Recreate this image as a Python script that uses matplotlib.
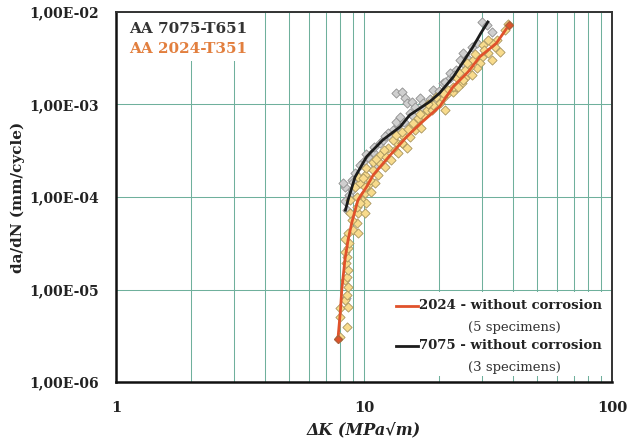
import matplotlib
matplotlib.use("Agg")
import matplotlib.pyplot as plt
from matplotlib.patches import Rectangle

# ---------------- data ----------------
x_ticks = [1, 10, 100]
x_tick_labels = ["1", "10", "100"]
y_ticks = [1e-6, 1e-5, 1e-4, 1e-3, 1e-2]
y_tick_labels = ["1,00E-06", "1,00E-05", "1,00E-04", "1,00E-03", "1,00E-02"]

# AA 7075-T651 scatter (gray)
g_dk = [8.38, 8.51, 8.38, 8.51, 8.92, 8.92, 9.2, 9.91, 10.4, 10.9, 11.6, 11.9,
        13.1, 13.7, 13.5, 14.2, 14.6, 14.9, 15.6, 16.1, 16.8, 17.3, 13.5, 14.0,
        15.3, 19.0, 20.8, 22.2, 23.6, 25.1, 21.2, 22.2, 24.4, 25.1, 27.2, 29.8,
        31.2, 32.7, 11.1, 8.47, 8.25, 12.5, 17.9,
        9.6, 10.2, 11.0, 12.2, 12.9, 14.5, 15.8, 17.5, 18.5, 20.0, 23.0, 26.0,
        28.5, 9.0, 8.7]
g_da = [1.28e-4, 9.3e-5, 9.0e-5, 7.2e-5, 1.19e-4, 1.53e-4, 1.82e-4, 2.41e-4,
        2.73e-4, 3.09e-4, 3.84e-4, 4.13e-4, 5.3e-4, 6.0e-4, 1.32e-3, 1.37e-3,
        1.17e-3, 1.04e-3, 1.07e-3, 9.5e-4, 1.17e-3, 1.04e-3, 6.5e-4, 7.4e-4,
        8.1e-4, 1.44e-3, 1.71e-3, 1.93e-3, 2.36e-3, 2.81e-3, 1.76e-3, 2.19e-3,
        3.03e-3, 3.6e-3, 4.2e-3, 7.85e-3, 7.2e-3, 6.1e-3, 2.2e-4, 8.0e-6,
        1.4e-4, 4.9e-4, 9.0e-4,
        2.2e-4, 2.9e-4, 3.5e-4, 4.6e-4, 4.4e-4, 6.5e-4, 7.6e-4, 9.0e-4, 1.15e-3,
        1.4e-3, 2.1e-3, 3.2e-3, 4.6e-3, 1.45e-4, 1.05e-4]

# AA 2024-T351 scatter (yellow)
y_dk = [8.0, 8.51, 8.0, 8.0, 8.6, 8.38, 8.51, 8.63, 8.38, 8.51, 8.63, 8.43,
        8.51, 8.38, 8.6, 8.72, 8.38, 8.63, 9.05, 9.48, 9.33, 8.92, 8.78, 9.45,
        10.1, 9.33, 9.79, 10.2, 10.1, 10.7, 10.4, 11.1,
        8.78, 9.33, 9.64, 9.2, 9.64, 10.1, 9.45, 10.1, 10.6, 10.2, 10.9, 11.4,
        10.9, 11.6, 12.1, 11.6, 12.3, 12.9, 12.5, 13.3, 13.7, 13.5, 14.3, 14.9,
        14.3, 15.3, 16.1, 15.3, 16.3,
        13.1, 13.5, 14.3, 14.2, 15.8, 16.5, 17.3, 17.9, 18.8, 19.0, 20.2, 20.8,
        21.8, 22.8, 23.6, 24.8, 25.5, 21.2, 17.0,
        38.1, 37.0, 34.5, 33.7, 35.3, 32.7, 31.6, 32.7, 30.1, 29.8, 29.3, 27.5,
        28.5, 26.7, 27.2, 25.5, 25.1, 23.6, 22.8, 23.9, 21.8, 20.8,
        30.5, 31.5, 28.0, 26.0, 24.2, 19.5, 18.2, 16.8, 15.0, 12.0, 11.2, 9.9]
y_da = [3.06e-6, 3.96e-6, 5.08e-6, 6.3e-6, 6.5e-6, 7.7e-6, 8.7e-6, 1.07e-5,
        1.27e-5, 1.37e-5, 1.63e-5, 1.93e-5, 2.26e-5, 2.56e-5, 2.81e-5, 3.18e-5,
        3.52e-5, 4.08e-5, 4.4e-5, 4.08e-5, 5.24e-5, 5.64e-5, 6.7e-5, 6.7e-5,
        6.7e-5, 7.85e-5, 9.3e-5, 8.6e-5, 1.10e-4, 1.14e-4, 1.35e-4, 1.42e-4,
        9.3e-5, 1.01e-4, 8.6e-5, 1.29e-4, 1.42e-4, 1.29e-4, 1.66e-4, 1.73e-4,
        1.53e-4, 2.06e-4, 1.96e-4, 1.73e-4, 2.41e-4, 2.33e-4, 2.13e-4, 2.85e-4,
        2.73e-4, 2.5e-4, 3.39e-4, 3.22e-4, 2.99e-4, 3.96e-4, 3.84e-4, 3.39e-4,
        4.68e-4, 4.49e-4, 5.3e-4, 5.75e-4, 6.3e-4,
        4.13e-4, 4.68e-4, 5.08e-4, 3.84e-4, 6.3e-4, 7.15e-4, 7.7e-4, 8.7e-4,
        8.7e-4, 9.9e-4, 1.04e-3, 1.17e-3, 1.33e-3, 1.37e-3, 1.56e-3, 1.71e-3,
        1.93e-3, 8.7e-4, 5.6e-4,
        7.4e-3, 6.4e-3, 5.0e-3, 4.2e-3, 3.7e-3, 4.6e-3, 3.6e-3, 3.03e-3, 4.4e-3,
        3.29e-3, 2.81e-3, 3.03e-3, 2.48e-3, 2.56e-3, 2.08e-3, 2.36e-3, 1.84e-3,
        2.0e-3, 1.56e-3, 1.56e-3, 1.44e-3, 1.33e-3,
        3.9e-3, 5.0e-3, 3.5e-3, 2.8e-3, 2.2e-3, 1.2e-3, 1.0e-3, 7.9e-4, 5.4e-4,
        3.2e-4, 2.6e-4, 1.6e-4]

# fitted curves
fit2024_dk = [7.85, 8.04, 8.14, 8.38, 8.63, 8.95, 9.46, 10.25, 10.9, 12.7,
              14.9, 16.8, 20.2, 22.9, 26.3, 29.3, 34.2, 38.4]
fit2024_da = [2.9e-6, 6.0e-6, 1.0e-5, 2.1e-5, 3.45e-5, 5.4e-5, 9.3e-5, 1.29e-4,
              1.73e-4, 2.8e-4, 4.5e-4, 6.15e-4, 9.5e-4, 1.56e-3, 2.25e-3,
              3.27e-3, 4.6e-3, 7.2e-3]
fit7075_dk = [8.42, 8.63, 9.2, 10.25, 11.9, 14.0, 15.3, 18.4, 20.2, 22.9,
              25.1, 27.5, 29.6, 31.6]
fit7075_da = [7.2e-5, 9.3e-5, 1.64e-4, 2.73e-4, 4.13e-4, 5.75e-4, 7.7e-4,
              1.07e-3, 1.33e-3, 1.98e-3, 2.88e-3, 4.19e-3, 5.9e-3, 7.8e-3]

# ---------------- figure ----------------
SERIF = ["DejaVu Serif"]
plt.rcParams["font.family"] = SERIF

fig = plt.figure(figsize=(6.27, 4.42), dpi=100)
ax = fig.add_axes([0.185, 0.1357, 0.791, 0.8372])
ax.set_xscale("log")
ax.set_yscale("log")
ax.set_xlim(1, 100)
ax.set_ylim(1e-6, 1e-2)

grid_c = "#6fb09c"
ax.grid(True, which="major", axis="both", color=grid_c, lw=0.75, zorder=0)
ax.grid(True, which="minor", axis="x", color=grid_c, lw=0.75, zorder=0)
ax.grid(False, which="minor", axis="y")
ax.set_axisbelow(True)

ax.set_xticks(x_ticks)
ax.set_xticklabels(x_tick_labels, fontweight="bold", fontsize=10.5, color="#222222")
ax.set_yticks(y_ticks)
ax.set_yticklabels(y_tick_labels, fontweight="bold", fontsize=10, color="#222222")
ax.yaxis.set_minor_locator(matplotlib.ticker.NullLocator())
ax.xaxis.set_minor_locator(matplotlib.ticker.LogLocator(subs=range(2, 10)))
ax.xaxis.set_minor_formatter(matplotlib.ticker.NullFormatter())
ax.tick_params(which="both", length=0)
ax.tick_params(axis="x", pad=14)
ax.tick_params(axis="y", pad=12)

for s in ["left", "bottom"]:
    ax.spines[s].set_linewidth(1.8)
    ax.spines[s].set_color("#111111")
for s in ["top", "right"]:
    ax.spines[s].set_linewidth(1.4)
    ax.spines[s].set_color("#333333")

ax.scatter(g_dk, g_da, marker="D", s=22, facecolor="#cfcfcf", edgecolor="#8f8f8f",
           linewidth=0.6, zorder=3)
ax.scatter(y_dk, y_da, marker="D", s=22, facecolor="#f8db8c", edgecolor="#a8955e",
           linewidth=0.6, zorder=4)
ax.plot(fit7075_dk, fit7075_da, color="#1c1c1c", lw=2.0, zorder=5)
ax.plot(fit2024_dk, fit2024_da, color="#e0522b", lw=2.0, zorder=6)
ax.plot([fit2024_dk[0], fit2024_dk[-1]], [fit2024_da[0], fit2024_da[-1]], ls="none",
        marker="D", ms=4.5, mfc="#e0522b", mec="#b0603a", zorder=7)

# top-left label box
ax.add_patch(Rectangle((0.0, 0.868), 0.27, 0.13, transform=ax.transAxes,
                       facecolor="white", edgecolor="none", zorder=2))
ax.text(0.027, 0.955, "AA 7075-T651", transform=ax.transAxes, fontsize=11,
        fontweight="bold", color="#333333", va="center", ha="left", zorder=8)
ax.text(0.027, 0.9, "AA 2024-T351", transform=ax.transAxes, fontsize=11,
        fontweight="bold", color="#e27f3e", va="center", ha="left", zorder=8)

# legend box
ax.add_patch(Rectangle((0.555, 0.016), 0.44, 0.228, transform=ax.transAxes,
                       facecolor="white", edgecolor="none", zorder=2))
ax.plot([0.565, 0.608], [0.206, 0.206], transform=ax.transAxes, color="#e0522b",
        lw=2.0, zorder=8)
ax.plot([0.565, 0.608], [0.098, 0.098], transform=ax.transAxes, color="#1c1c1c",
        lw=2.0, zorder=8)
ax.text(0.61, 0.206, "2024 - without corrosion", transform=ax.transAxes,
        fontsize=9.5, fontweight="bold", color="#222222", va="center", ha="left", zorder=8)
ax.text(0.71, 0.148, "(5 specimens)", transform=ax.transAxes,
        fontsize=9.5, color="#333333", va="center", ha="left", zorder=8)
ax.text(0.61, 0.098, "7075 - without corrosion", transform=ax.transAxes,
        fontsize=9.5, fontweight="bold", color="#222222", va="center", ha="left", zorder=8)
ax.text(0.71, 0.04, "(3 specimens)", transform=ax.transAxes,
        fontsize=9.5, color="#333333", va="center", ha="left", zorder=8)

ax.set_ylabel("da/dN (mm/cycle)", fontsize=11, fontweight="bold", color="#222222")
ax.set_xlabel("ΔK (MPa√m)", fontsize=11.5, fontweight="bold", style="italic",
              color="#222222", labelpad=4)
ax.yaxis.set_label_coords(-0.183, 0.5)

fig.savefig("out.png", dpi=100)
